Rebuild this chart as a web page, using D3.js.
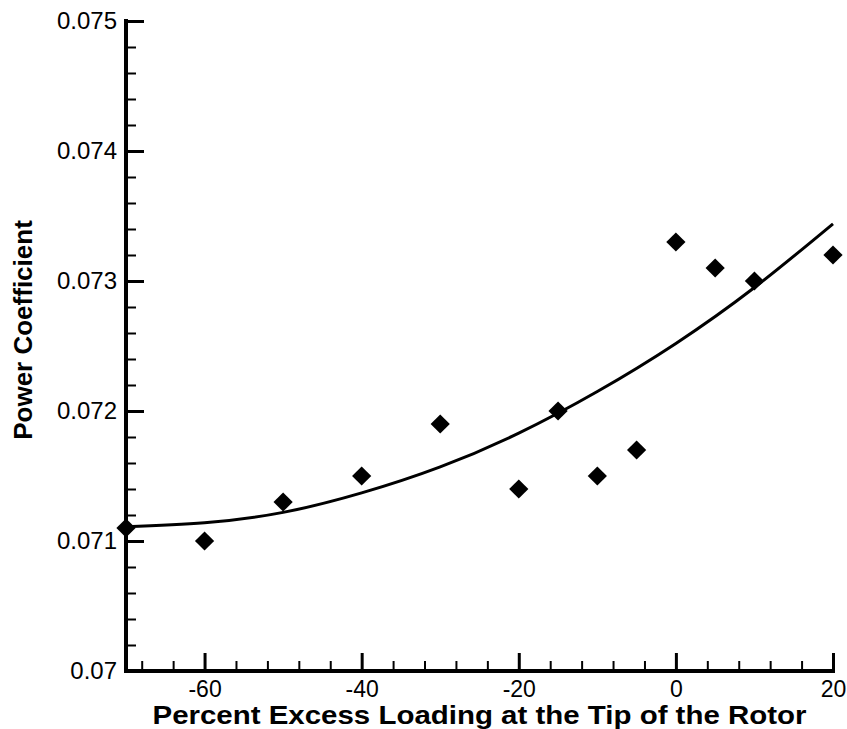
<!DOCTYPE html>
<html>
<head>
<meta charset="utf-8">
<script src="https://cdn.jsdelivr.net/npm/d3@7"></script>
<style>
  html, body { margin: 0; padding: 0; background: #fff; }
  svg { display: block; font-family: "Liberation Sans", Arial, Helvetica, sans-serif; }
</style>
</head>
<body>
<svg id="chart" width="847" height="729"></svg>
<script>
// Measured power coefficient vs. percent excess tip loading
const loading = [-70, -60, -50, -40, -30, -20, -15, -10, -5, 0, 5, 10, 20];
const powerCoef = [0.0711, 0.0710, 0.0713, 0.0715, 0.0719, 0.0714, 0.0720, 0.0715, 0.0717, 0.0733, 0.0731, 0.0730, 0.0732];

// Fitted trend curve
const fitLoading = [-70, -60, -50, -40, -30, -20, -10, 0, 10, 20];
const fitCoef = [0.07111, 0.07114, 0.07122, 0.07137, 0.07157, 0.07183, 0.07215, 0.07252, 0.07295, 0.07344];

// Axis ticks
const xMajor = [-60, -40, -20, 0, 20];
const xMinor = [-68, -64, -56, -52, -48, -44, -36, -32, -28, -24, -16, -12, -8, -4, 4, 8, 12, 16];
const yMajor = [0.070, 0.071, 0.072, 0.073, 0.074, 0.075];
const yMajorLabels = ["0.07", "0.071", "0.072", "0.073", "0.074", "0.075"];
const yMinor = [0.0702, 0.0704, 0.0706, 0.0708, 0.0712, 0.0714, 0.0716, 0.0718,
                0.0722, 0.0724, 0.0726, 0.0728, 0.0732, 0.0734, 0.0736, 0.0738,
                0.0742, 0.0744, 0.0746, 0.0748];

const xTitle = "Percent Excess Loading at the Tip of the Rotor";
const yTitle = "Power Coefficient";

(function () {
  const svg = d3.select("#chart");
  const plotLeft = 126, plotRight = 833, plotTop = 21, plotBottom = 671;

  const x = d3.scaleLinear().domain([-70, 20]).range([plotLeft, plotRight]);
  const y = d3.scaleLinear().domain([0.070, 0.075]).range([plotBottom, plotTop]);

  // Minor ticks (pointing inward)
  svg.append("g")
    .attr("transform", `translate(0,${plotBottom})`)
    .call(d3.axisBottom(x).tickValues(xMinor).tickSizeInner(-10).tickSizeOuter(0).tickFormat(""))
    .call(g => g.select(".domain").remove())
    .call(g => g.selectAll(".tick line").attr("stroke", "#000").attr("stroke-width", 2));

  svg.append("g")
    .attr("transform", `translate(${plotLeft},0)`)
    .call(d3.axisLeft(y).tickValues(yMinor).tickSizeInner(-10).tickSizeOuter(0).tickFormat(""))
    .call(g => g.select(".domain").remove())
    .call(g => g.selectAll(".tick line").attr("stroke", "#000").attr("stroke-width", 2));

  // Major ticks and labels
  const xAxis = svg.append("g")
    .attr("transform", `translate(0,${plotBottom})`)
    .call(d3.axisBottom(x).tickValues(xMajor).tickSizeInner(-18).tickSizeOuter(0).tickPadding(10).tickFormat(d => String(d)));
  xAxis.selectAll(".tick line").attr("stroke", "#000").attr("stroke-width", 3);
  xAxis.selectAll(".tick text").attr("fill", "#000").style("font-size", "23px");
  xAxis.select(".domain").remove();

  const yAxis = svg.append("g")
    .attr("transform", `translate(${plotLeft},0)`)
    .call(d3.axisLeft(y).tickValues(yMajor).tickSizeInner(-18).tickSizeOuter(0).tickPadding(9)
      .tickFormat((d, i) => yMajorLabels[i]));
  yAxis.selectAll(".tick line").attr("stroke", "#000").attr("stroke-width", 3);
  yAxis.selectAll(".tick text").attr("fill", "#000").style("font-size", "24px");
  yAxis.select(".domain").remove();

  // Axis lines
  svg.append("path")
    .attr("d", `M${x(-70)},${y(0.075)}V${y(0.070)}H${x(20)}`)
    .attr("fill", "none").attr("stroke", "#000").attr("stroke-width", 4)
    .attr("stroke-linejoin", "miter").attr("stroke-linecap", "square");

  // Trend curve
  const line = d3.line()
    .x((d, i) => x(fitLoading[i]))
    .y(d => y(d))
    .curve(d3.curveNatural);
  svg.append("path")
    .attr("d", line(fitCoef))
    .attr("fill", "none").attr("stroke", "#000").attr("stroke-width", 3);

  // Data markers (diamonds)
  const diamond = d3.symbol().type(d3.symbolSquare).size(185);
  svg.append("g").selectAll("path")
    .data(powerCoef)
    .join("path")
    .attr("d", diamond)
    .attr("transform", (d, i) => `translate(${x(loading[i])},${y(d)}) rotate(45)`)
    .attr("fill", "#000");

  // Axis titles
  svg.append("text")
    .attr("x", (plotLeft + plotRight) / 2)
    .attr("y", 724)
    .attr("text-anchor", "middle")
    .attr("textLength", 654)
    .attr("lengthAdjust", "spacingAndGlyphs")
    .style("font-size", "25px")
    .style("font-weight", "bold")
    .text(xTitle);

  svg.append("text")
    .attr("transform", `translate(32,330) rotate(-90)`)
    .attr("text-anchor", "middle")
    .style("font-size", "26px")
    .style("font-weight", "bold")
    .text(yTitle);
})();
</script>
</body>
</html>
